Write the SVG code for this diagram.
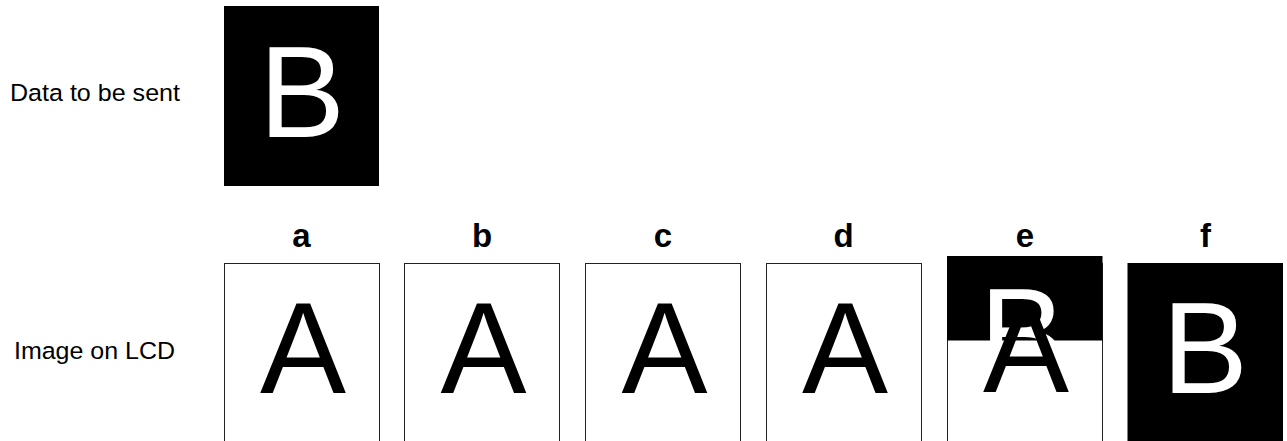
<svg xmlns="http://www.w3.org/2000/svg" width="1287" height="441" viewBox="0 0 1287 441">
  <style>
    .lbl { font-family: "Liberation Sans", Arial, sans-serif; font-size: 24.5px; fill: #000; }
    .tag { font-family: "Liberation Sans", Arial, sans-serif; font-size: 33px; font-weight: bold; fill: #000; text-anchor: middle; }
    .big { font-family: "Liberation Sans", Arial, sans-serif; font-size: 129px; text-anchor: middle; }
    .panel { fill: #fff; stroke: #222; stroke-width: 1; }
    .blk { fill: #000; }
    .w { fill: #fff; }
    .k { fill: #000; }
  </style>
  <rect width="1287" height="441" fill="#fff"/>

  <g id="label-data">
    <text class="lbl" x="10" y="101" textLength="170" lengthAdjust="spacingAndGlyphs">Data to be sent</text>
  </g>
  <g id="label-lcd">
    <text class="lbl" x="14" y="358.5" textLength="161" lengthAdjust="spacingAndGlyphs">Image on LCD</text>
  </g>

  <g id="data-B">
    <rect class="blk" x="224" y="6" width="155" height="180"/>
    <text class="big w" x="302" y="137">B</text>
  </g>

  <g id="panel-a">
    <text class="tag" x="301.5" y="247">a</text>
    <rect class="panel" x="224.5" y="263.5" width="155" height="200"/>
    <text class="big k" x="303" y="393">A</text>
  </g>

  <g id="panel-b">
    <text class="tag" x="482" y="247">b</text>
    <rect class="panel" x="404.5" y="263.5" width="155" height="200"/>
    <text class="big k" x="483.5" y="393">A</text>
  </g>

  <g id="panel-c">
    <text class="tag" x="663" y="247">c</text>
    <rect class="panel" x="585.5" y="263.5" width="155" height="200"/>
    <text class="big k" x="664.5" y="393">A</text>
  </g>

  <g id="panel-d">
    <text class="tag" x="843.5" y="247">d</text>
    <rect class="panel" x="766.5" y="263.5" width="155" height="200"/>
    <text class="big k" x="845" y="393">A</text>
  </g>

  <g id="panel-e">
    <text class="tag" x="1025" y="247">e</text>
    <rect class="panel" x="947.5" y="263.5" width="155" height="200"/>
    <rect class="blk" x="947" y="256" width="155.5" height="84.5"/>
    <text class="big w" x="1022.5" y="378.5">B</text>
    <text class="big k" x="1026" y="392">A</text>
  </g>

  <g id="panel-f">
    <text class="tag" x="1205.5" y="247">f</text>
    <rect class="blk" x="1127.5" y="263" width="155.5" height="180"/>
    <text class="big w" x="1205" y="393">B</text>
  </g>
</svg>
